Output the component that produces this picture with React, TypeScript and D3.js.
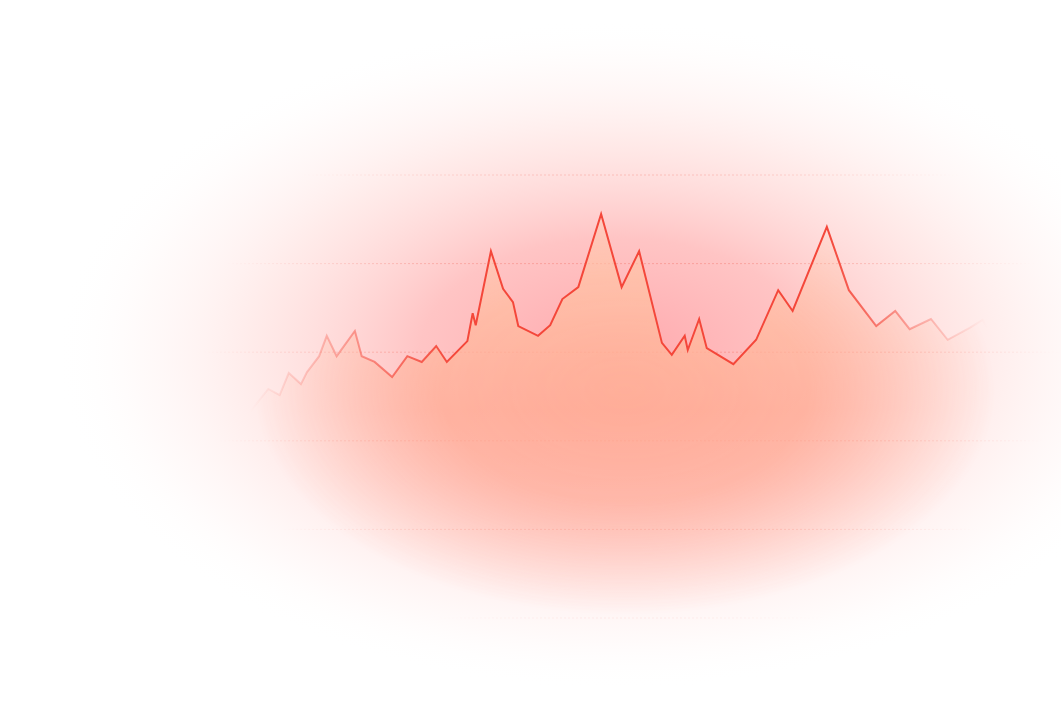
import * as d3 from "d3";
import { useEffect } from "react";

// time index (days) and value
const days = [0, 2.4, 3.9, 5.1, 6.7, 7.5, 9.1, 10.1, 11.4, 13.8, 14.7, 16.4, 18.7, 20.7, 22.6, 24.5, 25.9, 28.6, 29.3, 29.7, 31.7, 33.3, 34.6, 35.3, 37.9, 39.5, 41.1, 43.2, 46.2, 48.9, 51.2, 54.2, 55.5, 57.2, 57.6, 59.1, 60.1, 63.6, 66.6, 69.5, 71.4, 75.9, 78.8, 82.4, 84.9, 86.8, 89.6, 91.8, 94.7, 96.4, 98.4, 100];
const values = [46.5, 51.7, 50.3, 55.3, 52.8, 55.5, 59.1, 63.7, 59.1, 64.8, 59.1, 57.8, 54.4, 59.1, 57.8, 61.4, 57.8, 62.5, 68.8, 66.1, 82.8, 74.3, 71.3, 65.9, 63.7, 66.1, 72.0, 74.7, 91.2, 74.7, 82.8, 62.1, 59.4, 63.7, 60.5, 67.5, 60.9, 57.3, 62.8, 74.0, 69.3, 88.3, 74.0, 65.9, 69.3, 65.2, 67.5, 62.8, 65.5, 67.3, 61.6, 56.4];
const gridTicks = [0, 20, 40, 60, 80, 100];

const width = 1061;
const height = 714;

export default function App() {
  useEffect(() => {
    document.body.style.margin = "0";
  }, []);

  const x = d3.scaleLinear().domain([0, 100]).range([250, 1010]);
  const y = d3.scaleLinear().domain([0, 100]).range([618, 175]);

  const points = days.map((d, i) => [d, values[i]] as [number, number]);

  const line = d3.line<[number, number]>()
    .x(d => x(d[0]))
    .y(d => y(d[1]));

  const area = d3.area<[number, number]>()
    .x(d => x(d[0]))
    .y0(y(0))
    .y1(d => y(d[1]));

  return (
    <svg width={width} height={height} style={{ position: "absolute", left: 0, top: 0, display: "block" }}>
      <defs>
        <radialGradient id="glow" gradientUnits="userSpaceOnUse" cx="0" cy="0" r="1"
          gradientTransform="translate(615,355) scale(560,335)">
          <stop offset="0" stopColor="#ffa3a8" stopOpacity="0.95" />
          <stop offset="0.35" stopColor="#ffb1b1" stopOpacity="0.75" />
          <stop offset="0.65" stopColor="#ffd3d0" stopOpacity="0.45" />
          <stop offset="0.85" stopColor="#ffeceb" stopOpacity="0.25" />
          <stop offset="1" stopColor="#ffffff" stopOpacity="0" />
        </radialGradient>
        <radialGradient id="areaFade" gradientUnits="userSpaceOnUse" cx="0" cy="0" r="1"
          gradientTransform="translate(625,390) scale(370,225)">
          <stop offset="0" stopColor="#fff" stopOpacity="1" />
          <stop offset="0.5" stopColor="#fff" stopOpacity="0.85" />
          <stop offset="1" stopColor="#fff" stopOpacity="0" />
        </radialGradient>
        <mask id="areaMask" maskUnits="userSpaceOnUse" x="0" y="0" width={width} height={height}>
          <rect width={width} height={height} fill="url(#areaFade)" />
        </mask>
        <radialGradient id="gridFade" gradientUnits="userSpaceOnUse" cx="0" cy="0" r="1"
          gradientTransform="translate(630,360) scale(430,290)">
          <stop offset="0" stopColor="#fff" stopOpacity="1" />
          <stop offset="0.6" stopColor="#fff" stopOpacity="0.7" />
          <stop offset="1" stopColor="#fff" stopOpacity="0" />
        </radialGradient>
        <mask id="gridMask" maskUnits="userSpaceOnUse" x="0" y="0" width={width} height={height}>
          <rect width={width} height={height} fill="url(#gridFade)" />
        </mask>
        <linearGradient id="areaFill" gradientUnits="userSpaceOnUse" x1="0" y1="200" x2="0" y2="618">
          <stop offset="0" stopColor="#ffcfae" />
          <stop offset="0.5" stopColor="#ffab92" />
          <stop offset="1" stopColor="#ffb2a6" />
        </linearGradient>
        <linearGradient id="lineStroke" gradientUnits="userSpaceOnUse" x1="250" y1="0" x2="1010" y2="0">
          <stop offset="0" stopColor="#f4473a" stopOpacity="0" />
          <stop offset="0.1" stopColor="#f4473a" stopOpacity="0.3" />
          <stop offset="0.27" stopColor="#f4473a" stopOpacity="1" />
          <stop offset="0.76" stopColor="#f4473a" stopOpacity="1" />
          <stop offset="0.88" stopColor="#f4473a" stopOpacity="0.35" />
          <stop offset="0.97" stopColor="#f4473a" stopOpacity="0" />
        </linearGradient>
      </defs>

      <rect width={width} height={height} fill="#ffffff" />
      <ellipse cx={615} cy={355} rx={560} ry={335} fill="url(#glow)" />

      <g mask="url(#gridMask)">
        {gridTicks.map(t => (
          <line key={t} x1={0} x2={width} y1={y(t)} y2={y(t)}
            stroke="#f26a5e" strokeOpacity={0.45} strokeWidth={1} strokeDasharray="2 2" />
        ))}
      </g>

      <path d={area(points) ?? ""} fill="url(#areaFill)" fillOpacity={0.85} mask="url(#areaMask)" />

      <path d={line(points) ?? ""} fill="none" stroke="url(#lineStroke)" strokeWidth={2} strokeLinejoin="miter" />
    </svg>
  );
}
